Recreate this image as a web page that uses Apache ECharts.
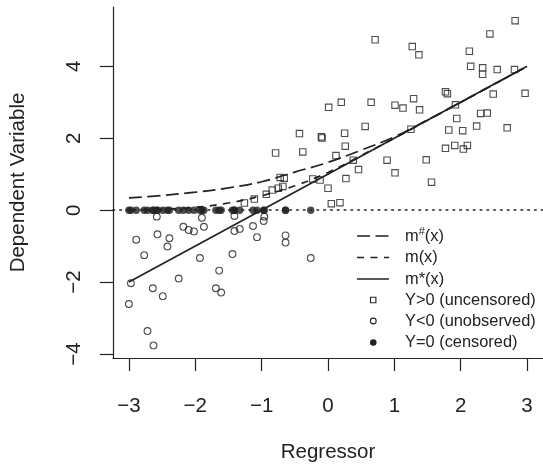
<!DOCTYPE html>
<html>
<head>
<meta charset="utf-8">
<script src="https://cdn.jsdelivr.net/npm/echarts@6/dist/echarts.min.js"></script>
<style>
  html, body { margin: 0; padding: 0; background: #fff; }
  #chart { width: 543px; height: 468px; }
</style>
</head>
<body>
<div id="chart"></div>
<script>
const xTicks = [-3, -2, -1, 0, 1, 2, 3]
const yTicks = [-4, -2, 0, 2, 4]

// Y>0 (uncensored) - squares
const upX = [2.82, 2.44, 0.71, 1.27, 1.37, 2.13, 2.15, 2.33, 2.33, 2.55, 2.81, 2.97, 2.49, 1.77, 1.80, 1.92,
  1.94, 2.30, 2.40, 2.24, 2.70, 1.82, 2.03, 1.77, 1.91, 2.04, 2.10, 1.29, 1.01, 1.13, 1.38, 1.25,
  0.65, 0.20, 0.01, 0.56, -0.43, -0.10, -0.09, 0.25, 0.26, 0.12, -0.38, -0.79, 0.38, 0.46, 0.27, 0.89,
  1.01, 1.48, 1.56, 0.00, -0.23, -0.12, 0.05, 0.18, -0.72, -0.66, -0.68, -0.75, -0.84, -0.93, -1.11, -1.26]
const upY = [5.27, 4.90, 4.74, 4.55, 4.32, 4.42, 4.00, 3.96, 3.78, 3.91, 3.91, 3.25, 3.23, 3.29, 3.24, 2.93,
  2.55, 2.69, 2.70, 2.34, 2.29, 2.23, 2.21, 1.72, 1.80, 1.70, 1.80, 3.10, 2.92, 2.84, 2.79, 2.25,
  3.00, 3.00, 2.86, 2.33, 2.13, 2.04, 2.01, 2.14, 1.78, 1.52, 1.62, 1.59, 1.39, 1.13, 0.88, 1.39,
  1.04, 1.40, 0.78, 0.61, 0.87, 0.84, 0.18, 0.21, 0.91, 0.89, 0.66, 0.61, 0.56, 0.44, 0.31, 0.20]

// Y<0 (unobserved) - open circles; censored points sit at the same x on y = 0
const lowX = [-2.58, -1.90, -2.89, -2.57, -2.39, -2.42, -2.77, -2.18, -2.10, -2.02, -1.87, -1.93, -2.25,
  -2.97, -2.64, -2.49, -3.00, -2.72, -2.63, -1.64, -1.69, -1.61, -1.41, -1.41, -1.33, -1.44, -1.13,
  -1.07, -0.97, -0.96, -0.64, -0.64, -0.26]
const lowY = [-0.18, -0.21, -0.82, -0.67, -0.78, -1.01, -1.25, -0.46, -0.55, -0.59, -0.46, -1.33, -1.90,
  -2.03, -2.17, -2.39, -2.61, -3.36, -3.76, -1.68, -2.17, -2.29, -0.16, -0.58, -0.52, -1.22, -0.44,
  -0.75, -0.30, -0.18, -0.70, -0.90, -1.33]

// regression curves
const lineX = [-3, 3]
const mStarY = [-2, 4]
const curveX = [-3, -2.5, -2, -1.5, -1, -0.5, 0, 0.5, 1, 1.5, 2, 2.5, 3]
const mSharpY = [0.34, 0.41, 0.50, 0.62, 0.79, 1.06, 1.33, 1.67, 2.04, 2.51, 3.0, 3.5, 4.0]
const mY = [0.01, 0.03, 0.08, 0.20, 0.40, 0.68, 1.05, 1.52, 2.0, 2.5, 3.0, 3.5, 4.0]

const ink = '#222'
const font = 'Liberation Sans, Arial, Helvetica, sans-serif'
const minus = v => String(v).replace('-', '\u2212')
const pairs = (xs, ys) => xs.map((x, i) => [x, ys[i]])

const chart = echarts.init(document.getElementById('chart'))

// legend rows, drawn by hand so the dash patterns match
const legY = [236, 257.5, 279, 300, 321, 342.5]
const legText = (y, t) => ({
  type: 'text', style: { x: 405, y: y, text: t, font: '16.4px ' + font, fill: ink, verticalAlign: 'middle',
    rich: { s: { fontSize: 11, fontFamily: font, fill: ink, verticalAlign: 'top', padding: [0, 0, 8, 0] } } }
})
const legend = [
  { type: 'line', shape: { x1: 357, y1: legY[0], x2: 389, y2: legY[0] }, style: { stroke: ink, lineWidth: 1.5, lineDash: [13, 5.5] } },
  { type: 'line', shape: { x1: 357, y1: legY[1], x2: 389, y2: legY[1] }, style: { stroke: ink, lineWidth: 1.5, lineDash: [7, 6.5] } },
  { type: 'line', shape: { x1: 357, y1: legY[2], x2: 389, y2: legY[2] }, style: { stroke: ink, lineWidth: 1.5 } },
  { type: 'rect', shape: { x: 370.5, y: legY[3] - 2.7, width: 5.4, height: 5.4 }, style: { fill: 'none', stroke: ink, lineWidth: 1.1 } },
  { type: 'circle', shape: { cx: 373.3, cy: legY[4], r: 2.9 }, style: { fill: 'none', stroke: ink, lineWidth: 1.1 } },
  { type: 'circle', shape: { cx: 373.3, cy: legY[5], r: 3.3 }, style: { fill: ink } },
  legText(legY[0], 'm{s|#}(x)'),
  legText(legY[1], 'm(x)'),
  legText(legY[2], 'm*(x)'),
  legText(legY[3], 'Y>0 (uncensored)'),
  legText(legY[4], 'Y<0 (unobserved)'),
  legText(legY[5], 'Y=0 (censored)')
]

const option = {
  animation: false,
  textStyle: { fontFamily: font },
  grid: { left: 110, top: 7, width: 437, height: 356 },
  xAxis: {
    type: 'value', min: -3.24, max: 3.24,
    name: 'Regressor', nameLocation: 'middle', nameGap: 84,
    nameTextStyle: { fontSize: 20.5, color: ink, fontFamily: font },
    axisLine: { show: true, onZero: false, lineStyle: { color: ink, width: 1.2 } },
    axisTick: { show: true, inside: false, length: 13, customValues: xTicks, lineStyle: { color: ink, width: 1.2 } },
    axisLabel: { customValues: xTicks, fontSize: 20.5, color: ink, margin: 38, formatter: minus },
    splitLine: { show: false }
  },
  yAxis: {
    type: 'value', min: -4.11, max: 5.65,
    name: 'Dependent Variable', nameLocation: 'middle', nameGap: 84, nameRotate: 90,
    nameTextStyle: { fontSize: 20.5, color: ink, fontFamily: font },
    axisLine: { show: true, onZero: false, lineStyle: { color: ink, width: 1.2 } },
    axisTick: { show: true, inside: false, length: 13, customValues: yTicks, lineStyle: { color: ink, width: 1.2 } },
    axisLabel: { customValues: yTicks, fontSize: 20.5, color: ink, margin: 28, rotate: 90, formatter: minus },
    splitLine: { show: false }
  },
  graphic: legend,
  series: [
    {
      name: 'Y>0 (uncensored)', type: 'scatter', symbol: 'rect', symbolSize: 6.4,
      itemStyle: { color: 'rgba(0,0,0,0)', borderColor: ink, borderWidth: 1.1 },
      data: pairs(upX, upY)
    },
    {
      name: 'Y<0 (unobserved)', type: 'scatter', symbol: 'circle', symbolSize: 6.8,
      itemStyle: { color: 'rgba(0,0,0,0)', borderColor: ink, borderWidth: 1.1 },
      data: pairs(lowX, lowY)
    },
    {
      name: 'Y=0 (censored)', type: 'scatter', symbol: 'circle', symbolSize: 7.4,
      itemStyle: { color: ink },
      data: lowX.map(x => [x, 0]),
      markLine: {
        silent: true, symbol: ['none', 'none'], label: { show: false },
        lineStyle: { color: ink, width: 1.6, type: [1.6, 5.2], cap: 'round' },
        data: [{ yAxis: 0 }]
      }
    },
    {
      name: 'm*(x)', type: 'line', showSymbol: false, symbol: 'none',
      lineStyle: { color: ink, width: 1.7 },
      data: pairs(lineX, mStarY)
    },
    {
      name: 'm#(x)', type: 'line', showSymbol: false, symbol: 'none', smooth: 0.4,
      lineStyle: { color: ink, width: 1.7, type: [13, 5.5] },
      data: pairs(curveX, mSharpY)
    },
    {
      name: 'm(x)', type: 'line', showSymbol: false, symbol: 'none', smooth: 0.4,
      lineStyle: { color: ink, width: 1.7, type: [7, 6.5] },
      data: pairs(curveX, mY)
    }
  ]
}

chart.setOption(option)
</script>
</body>
</html>
